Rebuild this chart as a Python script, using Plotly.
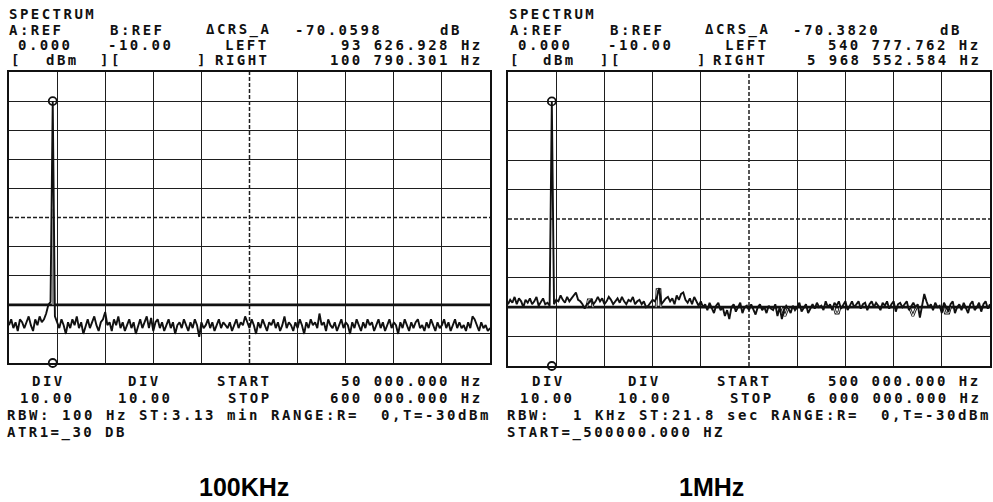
import plotly.graph_objects as go

W, H = 993, 502

# ---------------- 100 kHz sweep (left screen) ----------------
start_a = 50_000
stop_a = 600_000
ref_a = 0.0          # A:REF, dBm at top of screen
div_a = 10.0         # dB per division
carrier_a = 100_000
marker_levels_a = [-10.0, -100.0]
trace_b_level_a = -80.0
ghost_freq_a = [99_800, 100_600, 101_300]
ghost_level_a = [-80.0, -47.0, -80.0]
noise_a = [
    -87, -85, -88, -86, -89, -85, -86, -88, -86, -84,
    -87, -89, -85, -87, -84, -86, -85, -83, -80, -79,
    -10, -84, -86, -88, -85, -87, -90, -86, -88, -85,
    -87, -84, -88, -86, -90, -87, -85, -88, -86, -84,
    -87, -89, -86, -85, -82.5, -87, -86, -89, -85, -87,
    -84, -88, -86, -89, -87, -85, -88, -86, -90, -87,
    -85, -88, -86, -84, -88, -84.5, -89, -86, -85, -88,
    -86, -89, -87, -85, -88, -86, -90, -87, -86, -88,
    -85, -87, -89, -86, -88, -85, -87, -91, -86, -88,
    -87, -85, -88, -86, -89, -87, -85, -88, -86, -87,
    -88, -86, -89, -87, -85, -88, -86, -87, -84, -86,
    -88, -85, -87, -90, -86, -88, -85, -87, -89, -86,
    -87, -85, -88, -86, -89, -87, -84, -88, -86, -87,
    -89, -86, -88, -85, -87, -90, -86, -88, -85, -87,
    -86, -88, -83, -87, -86, -89, -85, -87, -88, -86,
    -89, -87, -85, -88, -86, -87, -90, -86, -88, -85,
    -87, -89, -86, -88, -85, -87, -86, -89, -87, -85,
    -88, -86, -89, -87, -85, -88, -86, -87, -90, -86,
    -88, -85, -87, -89, -86, -88, -86, -85, -88, -87,
    -89, -86, -88, -85, -87, -89, -86, -88, -87, -85,
    -88, -86, -89, -87, -85, -88, -86, -88, -87, -89,
    -86, -88, -84, -85, -87, -89, -86, -88, -87, -89, -88,
]

# ---------------- 1 MHz sweep (right screen) ----------------
start_b = 500_000
stop_b = 6_000_000
ref_b = 0.0
div_b = 10.0
carrier_b = 1_000_000
marker_levels_b = [-10.0, -100.0]
trace_b_level_b = -80.0
# excursions of trace B away from its flat level (None separates segments)
ghost_freq_b = [1_400_000, 1_415_000, 1_455_000, 1_470_000, None,
                2_190_000, 2_200_000, 2_235_000, 2_245_000, None,
                3_620_000, 3_660_000, 3_700_000, None,
                4_220_000, 4_240_000, 4_270_000, 4_290_000, None,
                5_080_000, 5_120_000, 5_160_000, None,
                5_470_000, 5_490_000, 5_530_000, 5_550_000]
ghost_level_b = [-80, -77.5, -77.5, -80, None,
                 -80, -74, -74, -80, None,
                 -80, -83, -80, None,
                 -80, -82, -82, -80, None,
                 -80, -83, -80, None,
                 -80, -82, -82, -80]
noise_b = [
    -79, -77.5, -78.5, -76.5, -79, -77, -78, -80, -77.5, -78.5,
    -77, -79, -78, -76.5, -79.5, -78, -77, -79, -78.5, -79.5,
    -10, -79, -77.5, -78, -76, -77.5, -78.5, -76.5, -78, -77,
    -76, -75, -77.5, -78, -79, -80.5, -79, -78.5, -77.5, -79,
    -78, -76.5, -78, -77, -79, -78, -76.5, -77.5, -79, -78,
    -77, -78.5, -76.5, -78, -79, -77.5, -78, -76.5, -79, -78,
    -77.5, -79, -78, -80, -79.5, -78.5, -77.5, -78, -76.5, -73.5,
    -79, -78, -77, -76.5, -78, -77, -79, -76, -77.5, -75.5,
    -75, -77.5, -78.5, -77, -79, -76.5, -78, -79.5, -78, -80,
    -79, -81, -78.5, -80, -82, -79.5, -78.5, -81, -80, -83,
    -81, -84, -80, -79, -81.5, -80, -78.5, -82, -80, -79.5,
    -81, -79, -80.5, -82.5, -80, -79, -81, -80, -82, -79.5,
    -80.5, -81, -79, -83, -80, -84, -81, -79.5, -80.5, -82,
    -79.5, -81, -80, -78.5, -81.5, -80, -79, -82, -80.5, -79,
    -80.5, -78.5, -80, -79.5, -81, -78, -80, -79, -81, -78.5,
    -79.5, -78, -80.5, -79, -78, -81, -79.5, -78, -80, -79,
    -78, -80.5, -79, -78.5, -81, -79, -78, -80, -78.5, -79.5,
    -81, -78.5, -79.5, -78, -80.5, -79, -78, -81.5, -79, -78.5,
    -80, -79, -78, -81, -79.5, -78.5, -80, -79, -83.5, -79,
    -75.5, -78, -80, -79, -81, -78.5, -80, -79.5, -82, -78.5,
    -80, -81.5, -79, -78, -82, -80, -79, -81, -78.5, -80,
    -82, -79, -78, -81, -80, -78.5, -81.5, -79, -78, -80.5, -79,
]

INK = "#111111"
GRID = "#1e1e1e"
MONO = "DejaVu Sans Mono"
MONO_SIZE = 14
ADVANCE = 10.9          # character pitch of the screen font, px


def sweep_freqs(start, stop, n):
    step = (stop - start) / (n - 1)
    return [start + step * i for i in range(n)]


def hz(v):
    return f"{v:,.3f}".replace(",", " ") + " Hz"


fig = go.Figure()

screens = [
    dict(ax="", start=start_a, stop=stop_a, ref=ref_a, div=div_a, noise=noise_a,
         carrier=carrier_a, marks=marker_levels_a, blevel=trace_b_level_a,
         gx=ghost_freq_a, gy=ghost_level_a, outlined=False,
         dom_x=[9 / W, 490 / W], dom_y=[1 - 363 / H, 1 - 72 / H]),
    dict(ax="2", start=start_b, stop=stop_b, ref=ref_b, div=div_b, noise=noise_b,
         carrier=carrier_b, marks=marker_levels_b, blevel=trace_b_level_b,
         gx=ghost_freq_b, gy=ghost_level_b, outlined=True,
         dom_x=[508 / W, 990 / W], dom_y=[1 - 366 / H, 1 - 72 / H]),
]

for s in screens:
    xa, ya = "x" + s["ax"], "y" + s["ax"]
    bottom = s["ref"] - 10 * s["div"]
    # trace B: flat reference trace
    fig.add_trace(go.Scatter(x=[s["start"], s["stop"]], y=[s["blevel"], s["blevel"]],
                             mode="lines", line=dict(color=INK, width=2.8),
                             xaxis=xa, yaxis=ya, hoverinfo="skip"))
    if s["outlined"]:
        fig.add_trace(go.Scatter(x=s["gx"], y=s["gy"], mode="lines",
                                 line=dict(color=INK, width=2.6), connectgaps=False,
                                 xaxis=xa, yaxis=ya, hoverinfo="skip"))
        fig.add_trace(go.Scatter(x=s["gx"], y=s["gy"], mode="lines",
                                 line=dict(color="white", width=0.9), connectgaps=False,
                                 xaxis=xa, yaxis=ya, hoverinfo="skip"))
    else:
        fig.add_trace(go.Scatter(x=s["gx"], y=s["gy"], mode="lines",
                                 line=dict(color="#8a8a8a", width=1.4),
                                 xaxis=xa, yaxis=ya, hoverinfo="skip"))
    # trace A: measured spectrum
    fig.add_trace(go.Scatter(x=sweep_freqs(s["start"], s["stop"], len(s["noise"])),
                             y=s["noise"], mode="lines",
                             line=dict(color=INK, width=1.9),
                             xaxis=xa, yaxis=ya, hoverinfo="skip"))
    # cursor markers
    fig.add_trace(go.Scatter(x=[s["carrier"]] * len(s["marks"]), y=s["marks"],
                             mode="markers", cliponaxis=False,
                             marker=dict(symbol="circle-open", size=8, color=INK,
                                         line=dict(width=1.8, color=INK)),
                             xaxis=xa, yaxis=ya, hoverinfo="skip"))

    span = s["stop"] - s["start"]
    xt = [s["start"] + span * k / 10 for k in range(1, 10) if k != 5]
    yt = [bottom + s["div"] * k for k in range(1, 10) if k != 5]
    axis_common = dict(showline=True, mirror=True, linecolor=INK, linewidth=1.8,
                       showgrid=True, gridcolor=GRID, gridwidth=1.3,
                       zeroline=False, showticklabels=False, ticks="")
    fig.update_layout(**{
        "xaxis" + s["ax"]: dict(domain=s["dom_x"], range=[s["start"], s["stop"]],
                                tickvals=xt, anchor=ya, **axis_common),
        "yaxis" + s["ax"]: dict(domain=s["dom_y"], range=[bottom, s["ref"]],
                                tickvals=yt, anchor=xa, **axis_common),
    })
    # dashed centre graticule
    cx = s["start"] + span / 2
    cy = bottom + 5 * s["div"]
    fig.add_shape(type="line", xref=xa, yref=ya, x0=cx, x1=cx, y0=bottom, y1=s["ref"],
                  line=dict(color=GRID, width=1.5, dash="4px,2px"), layer="below")
    fig.add_shape(type="line", xref=xa, yref=ya, x0=s["start"], x1=s["stop"], y0=cy, y1=cy,
                  line=dict(color=GRID, width=1.5, dash="4px,2px"), layer="below")


def txt(t, xp, yp, pitch=ADVANCE):
    spacing = pitch - 0.602 * MONO_SIZE
    t = t.replace(" ", "\u00a0")
    fig.add_annotation(
        text=f'<span style="letter-spacing:{spacing:.2f}px">{t}</span>',
        x=xp / W, y=1 - yp / H, xref="paper", yref="paper",
        xanchor="left", yanchor="middle", showarrow=False, borderpad=0,
        font=dict(family=MONO, size=MONO_SIZE, color=INK, weight="bold"),
    )


# screen header / footer text, left screen
txt("SPECTRUM", 8, 14)
txt("A:REF", 8, 30); txt("B:REF", 109, 30); txt("\u0394CRS_A", 205, 30)
txt("-70.0598", 294, 30); txt("dB", 439, 30)
txt(f"{ref_a:.3f}", 17, 45); txt("-10.00", 107, 45); txt("LEFT", 224, 45)
txt("93 626.928 Hz", 340, 45)
txt("[", 10, 60); txt("dBm", 45, 60); txt("][", 99, 60); txt("]", 196, 60)
txt("RIGHT", 214, 60); txt("100 790.301 Hz", 329, 60)

txt("DIV", 31, 381); txt("DIV", 127, 381); txt("START", 216, 381)
txt(hz(start_a), 340, 381)
txt(f"{div_a:.2f}", 19, 398); txt(f"{div_a:.2f}", 117, 398); txt("STOP", 227, 398)
txt(hz(stop_a), 329, 398)
txt("RBW: 100 Hz ST:3.13 min RANGE:R=  0,T=-30dBm", 6, 415, pitch=11.0)
txt("ATR1=_30 DB", 6, 432)

# right screen
txt("SPECTRUM", 508, 14)
txt("A:REF", 509, 30); txt("B:REF", 609, 30); txt("\u0394CRS_A", 704, 30)
txt("-70.3820", 792, 30); txt("dB", 939, 30)
txt(f"{ref_b:.3f}", 517, 45); txt("-10.00", 607, 45); txt("LEFT", 724, 45)
txt("540 777.762 Hz", 827, 45)
txt("[", 509, 60); txt("dBm", 542, 60); txt("][", 599, 60); txt("]", 696, 60)
txt("RIGHT", 712, 60); txt("5 968 552.584 Hz", 806, 60)

txt("DIV", 531, 381); txt("DIV", 627, 381); txt("START", 716, 381)
txt(hz(start_b), 827, 381)
txt(f"{div_b:.2f}", 519, 398); txt(f"{div_b:.2f}", 617, 398); txt("STOP", 729, 398)
txt(hz(stop_b), 806, 398)
txt("RBW:  1 KHz ST:21.8 sec RANGE:R=  0,T=-30dBm", 506, 415, pitch=11.0)
txt("START=_500000.000 HZ", 506, 432)

# captions
for cap, cxp in [("100KHz", 244), ("1MHz", 711)]:
    fig.add_annotation(text=f"<b>{cap}</b>", x=cxp / W, y=1 - 487 / H,
                       xref="paper", yref="paper", xanchor="center", yanchor="middle",
                       showarrow=False,
                       font=dict(family="Liberation Sans", size=25, color="#000000"))

fig.update_layout(width=W, height=H, margin=dict(l=0, r=0, t=0, b=0),
                  paper_bgcolor="white", plot_bgcolor="white", showlegend=False)

fig.write_html("out.html")
